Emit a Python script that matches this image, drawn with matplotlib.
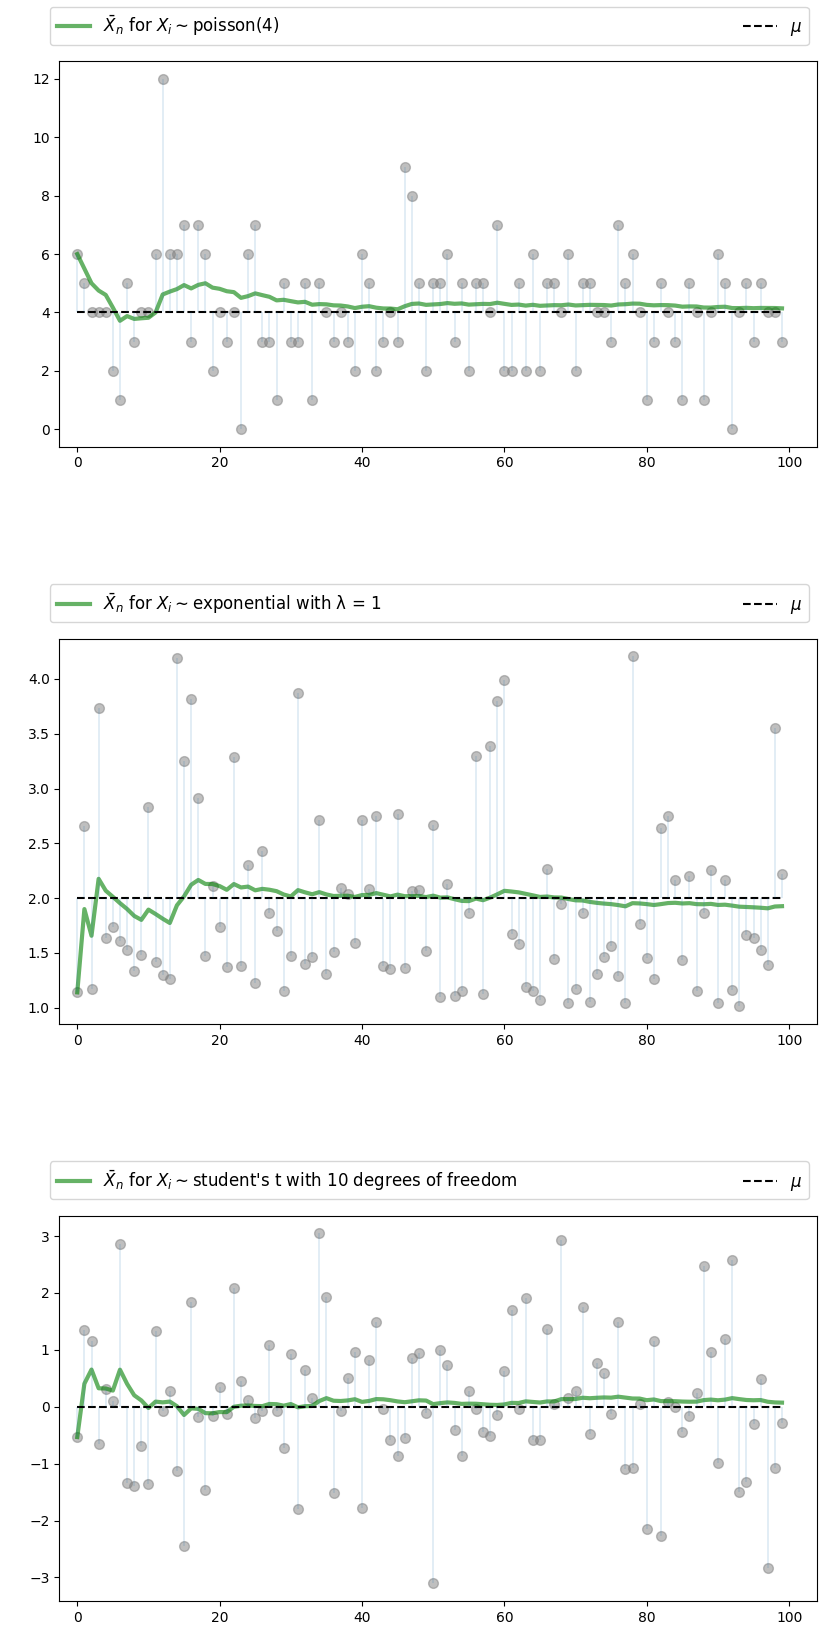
import numpy as np
import matplotlib
matplotlib.use("Agg")
import matplotlib.pyplot as plt

# sample draws
poisson_data = [6, 5, 4, 4, 4, 2, 1, 5, 3, 4, 4, 6, 12, 6, 6, 7, 3, 7, 6, 2,
                4, 3, 4, 0, 6, 7, 3, 3, 1, 5, 3, 3, 5, 1, 5, 4, 3, 4, 3, 2,
                6, 5, 2, 3, 4, 3, 9, 8, 5, 2, 5, 5, 6, 3, 5, 2, 5, 5, 4, 7,
                2, 2, 5, 2, 6, 2, 5, 5, 4, 6, 2, 5, 5, 4, 4, 3, 7, 5, 6, 4,
                1, 3, 5, 4, 3, 1, 5, 4, 1, 4, 6, 5, 0, 4, 5, 3, 5, 4, 4, 3]

expon_data = [1.14, 2.66, 1.17, 3.735, 1.635, 1.732, 1.607, 1.525, 1.333, 1.479,
              2.828, 1.416, 1.297, 1.266, 4.189, 3.248, 3.814, 2.91, 1.476, 2.113,
              1.732, 1.367, 3.285, 1.379, 2.298, 1.221, 2.428, 1.86, 1.70, 1.15,
              1.476, 3.869, 1.403, 1.461, 2.709, 1.303, 1.504, 2.091, 2.04, 1.589,
              2.709, 2.079, 2.746, 1.379, 1.349, 2.764, 1.358, 2.064, 2.073, 1.516,
              2.664, 1.096, 2.125, 1.105, 1.15, 1.86, 3.294, 1.123, 3.388, 3.796,
              3.988, 1.671, 1.577, 1.187, 1.148, 1.068, 2.262, 1.443, 1.942, 1.047,
              1.169, 1.86, 1.056, 1.303, 1.467, 1.559, 1.287, 1.047, 4.207, 1.76,
              1.449, 1.266, 2.636, 2.746, 2.161, 1.431, 2.201, 1.148, 1.86, 2.256,
              1.047, 2.161, 1.16, 1.011, 1.668, 1.632, 1.531, 1.394, 3.549, 2.216]

t_data = [-0.533, 1.342, 1.149, -0.662, 0.305, 0.10, 2.855, -1.348, -1.401, -0.698,
          -1.36, 1.325, -0.082, 0.27, -1.131, -2.456, 1.835, -0.188, -1.471, -0.158,
          0.34, -0.135, 2.081, 0.445, 0.123, -0.202, -0.07, 1.079, -0.082, -0.733,
          0.92, -1.80, 0.639, 0.147, 3.048, 1.923, -1.524, -0.082, 0.498, 0.955,
          -1.788, 0.815, 1.483, -0.047, -0.586, -0.868, -0.551, 0.85, 0.938, -0.111,
          -3.107, 0.991, 0.727, -0.41, -0.868, 0.27, -0.035, -0.445, -0.522, -0.152,
          0.621, 1.694, -0.035, 1.905, -0.586, -0.586, 1.36, 0.047, 2.925, 0.147,
          0.27, 1.747, -0.487, 0.762, 0.586, -0.129, 1.483, -1.096, -1.079, 0.047,
          -2.157, 1.149, -2.28, 0.082, 0.0, -0.451, -0.17, 0.24, 2.468, 0.955,
          -0.996, 1.184, 2.573, -1.506, -1.331, -0.311, 0.481, -2.843, -1.079, -0.287]

names = ['poisson(4)', 'exponential with λ = 1', "student's t with 10 degrees of freedom"]
means = [4, 2, 0]
datasets = [poisson_data, expon_data, t_data]

fig = plt.figure(figsize=(8.26, 16.35), dpi=100)
bottoms = [0.7268, 0.3737, 0.0208]

for b, data, name, m in zip(bottoms, datasets, names, means):
    ax = fig.add_axes([0.072, b, 0.9174, 0.2356])
    data = np.array(data)
    n = len(data)
    idx = np.arange(n)
    sample_mean = np.cumsum(data) / (idx + 1)

    ax.plot(idx, data, 'o', color='grey', alpha=0.5, ms=7)
    axlabel = r'$\bar{X}_n$ for $X_i \sim$' + name
    ax.plot(idx, sample_mean, 'g-', lw=3, alpha=0.6, label=axlabel)
    ax.plot(idx, [m] * n, 'k--', lw=1.5, label=r'$\mu$')
    ax.vlines(idx, m, data, lw=1.2, alpha=0.15, color='C0')
    ax.set_xlim(-2.5, 103.95)
    ax.set_xticks([0, 20, 40, 60, 80, 100])
    ax.legend(ncol=2, bbox_to_anchor=(-0.0124, 1.043, 1.001, 0.09), loc=3,
              mode='expand', borderaxespad=0., fontsize=12)

plt.savefig("out.png", dpi=100)
